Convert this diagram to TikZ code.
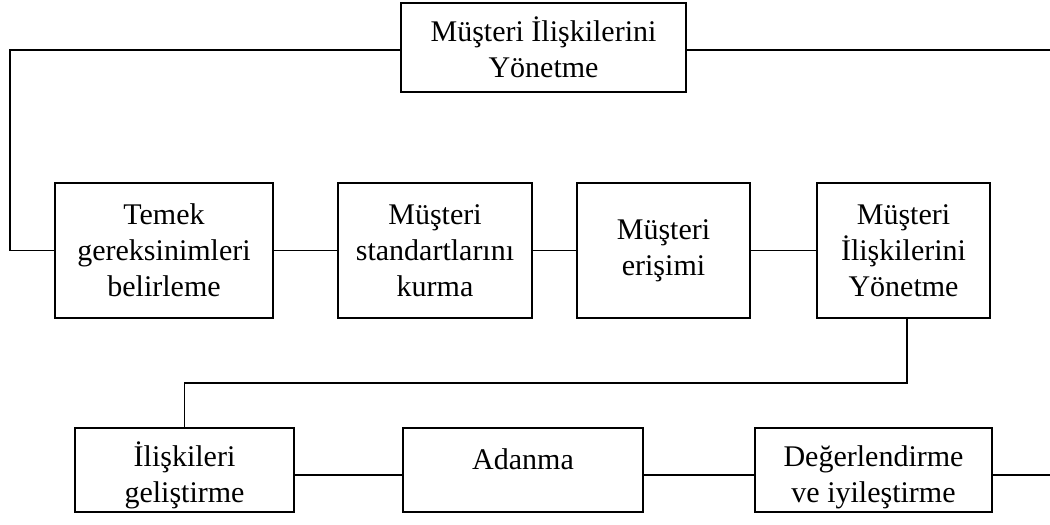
\documentclass[tikz,border=0pt]{standalone}
\usepackage{fontspec}
\setmainfont{Liberation Serif}
\newcommand{\topstrut}{\rule{0pt}{36pt}}
\begin{document}
\begin{tikzpicture}[x=1pt,y=1pt,
  box/.style={draw,line width=1.6pt,align=center,inner sep=2pt,
    font=\fontsize{30}{36}\selectfont},
  conn/.style={line width=1.4pt}]
\useasboundingbox (0,0) rectangle (1050,525);
\node[box,minimum width=285pt,minimum height=89pt] (top) at (543.5,477.5) {Müşteri İlişkilerini\\Yönetme};
\node[box,minimum width=218pt,minimum height=135pt] (b1) at (164,274.5) {Temek\\gereksinimleri\\belirleme};
\node[box,minimum width=194pt,minimum height=135pt] (b2) at (435,274.5) {Müşteri\\standartlarını\\kurma};
\node[box,minimum width=173pt,minimum height=135pt] (b3) at (663.5,274.5) {Müşteri\\erişimi};
\node[box,minimum width=173pt,minimum height=135pt] (b4) at (903.5,274.5) {Müşteri\\İlişkilerini\\Yönetme};
\node[box,minimum width=219pt,minimum height=84pt] (b5) at (184.5,55) {\topstrut İlişkileri\\geliştirme};
\node[box,minimum width=240pt,minimum height=84pt] (b6) at (523,55) {\topstrut Adanma\\~};
\node[box,minimum width=237pt,minimum height=84pt] (b7) at (873.5,55) {\topstrut Değerlendirme\\ve iyileştirme};
\coordinate (lt) at (10,475);
\coordinate (rt) at (1050,475);
\coordinate (rb) at (1050,50);
\coordinate (mid) at (907,142);
\draw[conn] (top.west |- lt) -- (lt) |- (b1.west);
\draw[conn] (top.east |- rt) -- (rt);
\draw[conn] (b1) -- (b2);
\draw[conn] (b2) -- (b3);
\draw[conn] (b3) -- (b4);
\draw[conn] (b4.south -| mid) -- (mid) -| (b5.north);
\draw[conn] (b5.east |- rb) -- (b6.west |- rb);
\draw[conn] (b6.east |- rb) -- (b7.west |- rb);
\draw[conn] (b7.east |- rb) -- (rb);
\end{tikzpicture}
\end{document}
